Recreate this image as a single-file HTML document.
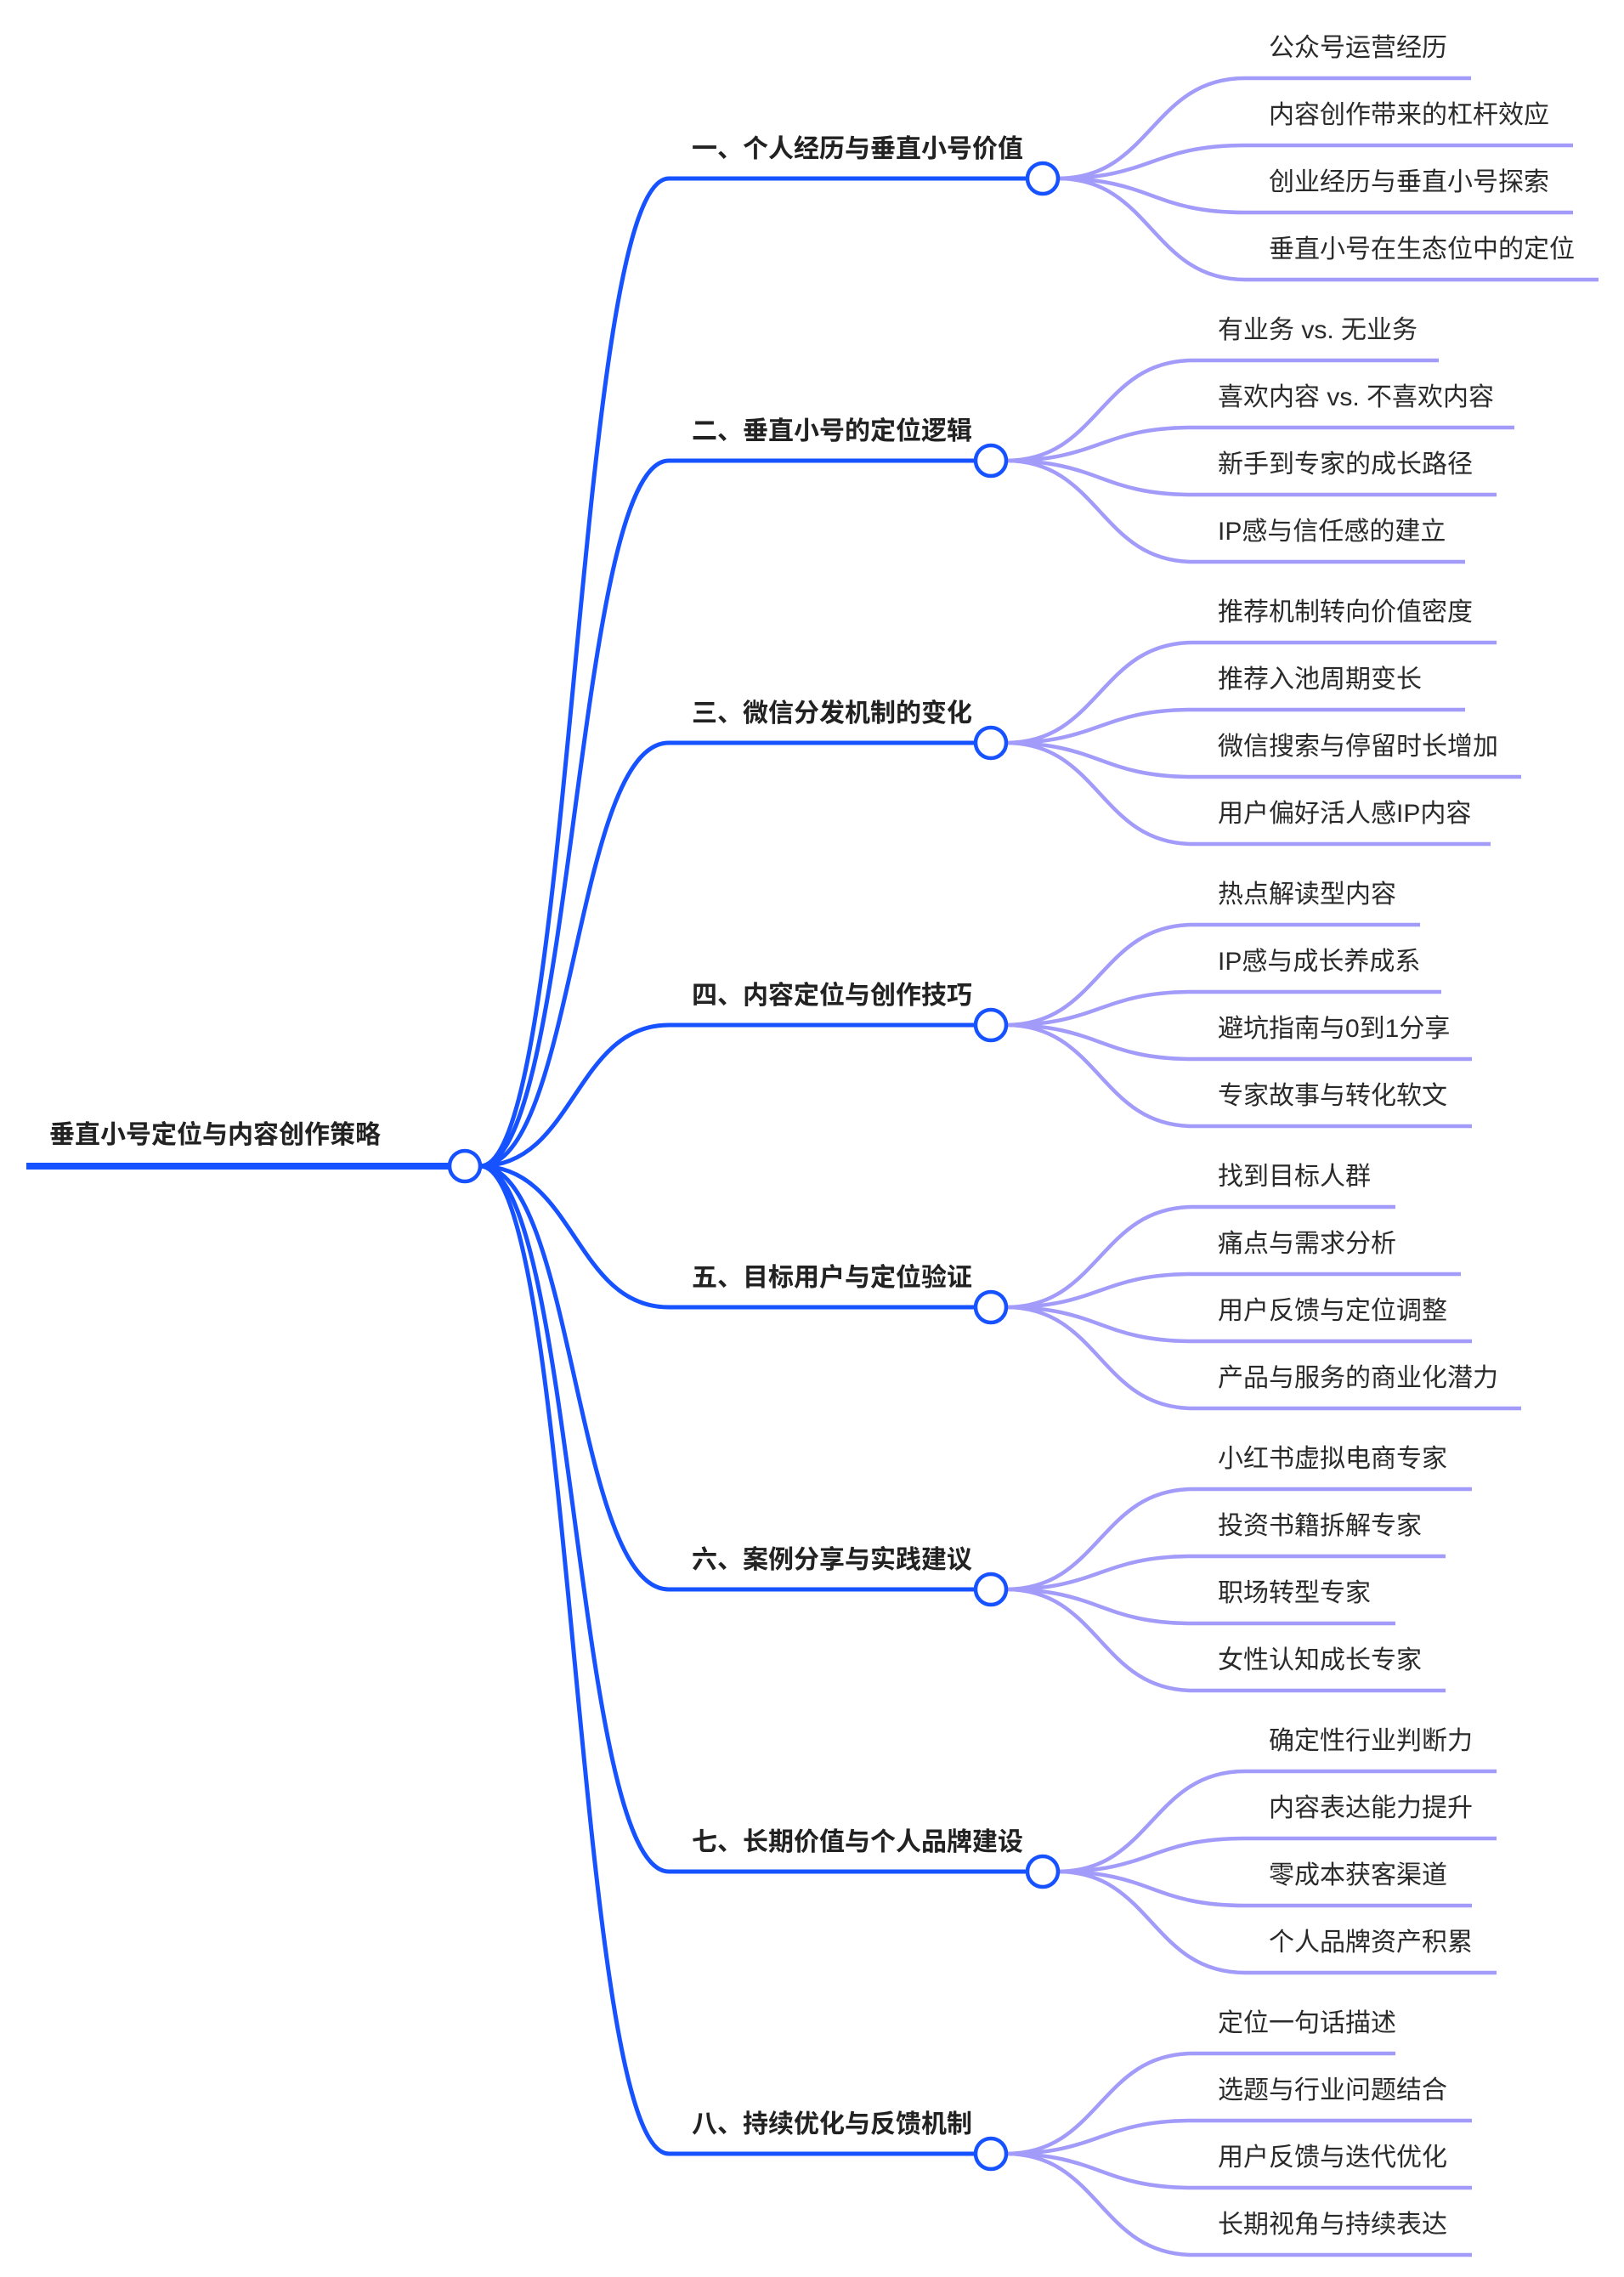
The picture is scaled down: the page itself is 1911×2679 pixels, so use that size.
<!DOCTYPE html>
<html><head><meta charset="utf-8"><style>
html,body{margin:0;padding:0;background:#fff;}
svg{display:block;}
.b{fill:none;stroke:#1652ff;stroke-width:5;}
.l{fill:none;stroke:#a29bfa;stroke-width:4.5;}
.c{fill:#fff;stroke:#1652ff;stroke-width:4.5;}
.bt{font-family:"Liberation Sans","Noto Sans CJK SC",sans-serif;font-size:30px;font-weight:bold;fill:#222;}
.lt{font-family:"Liberation Sans","Noto Sans CJK SC",sans-serif;font-size:30px;fill:#2a2a2a;}
</style></head><body>
<svg width="1911" height="2679" viewBox="0 0 1911 2679" xmlns="http://www.w3.org/2000/svg">
<line x1="31" y1="1372" x2="530" y2="1372" stroke="#1652ff" stroke-width="8"/>
<text class="bt" x="58" y="1345" style="font-size:30px">垂直小号定位与内容创作策略</text>

<path class="b" d="M565,1372 C676,1372 676,210 787,210 L1209,210"/>
<path class="b" d="M565,1372 C676,1372 676,542 787,542 L1148,542"/>
<path class="b" d="M565,1372 C676,1372 676,874 787,874 L1148,874"/>
<path class="b" d="M565,1372 C676,1372 676,1206 787,1206 L1148,1206"/>
<path class="b" d="M565,1372 C676,1372 676,1538 787,1538 L1148,1538"/>
<path class="b" d="M565,1372 C676,1372 676,1870 787,1870 L1148,1870"/>
<path class="b" d="M565,1372 C676,1372 676,2202 787,2202 L1209,2202"/>
<path class="b" d="M565,1372 C676,1372 676,2534 787,2534 L1148,2534"/>
<circle class="c" cx="547" cy="1372" r="18"/>

<g transform="translate(0,210)">
<path class="l" d="M1245,0 C1355,0 1355,-118 1465,-118 L1731,-118"/>
<path class="l" d="M1245,0 C1355,0 1355,-39 1465,-39 L1851,-39"/>
<path class="l" d="M1245,0 C1355,0 1355,40 1465,40 L1851,40"/>
<path class="l" d="M1245,0 C1355,0 1355,119 1465,119 L1881,119"/>
<circle class="c" cx="1227" cy="0" r="18"/>
<text class="bt" x="814" y="-25">一、个人经历与垂直小号价值</text>
<text class="lt" x="1493" y="-144">公众号运营经历</text>
<text class="lt" x="1493" y="-65">内容创作带来的杠杆效应</text>
<text class="lt" x="1493" y="14">创业经历与垂直小号探索</text>
<text class="lt" x="1493" y="93">垂直小号在生态位中的定位</text>
</g>

<g transform="translate(0,542)">
<path class="l" d="M1184,0 C1294,0 1294,-118 1404,-118 L1693,-118"/>
<path class="l" d="M1184,0 C1294,0 1294,-39 1404,-39 L1782,-39"/>
<path class="l" d="M1184,0 C1294,0 1294,40 1404,40 L1761,40"/>
<path class="l" d="M1184,0 C1294,0 1294,119 1404,119 L1724,119"/>
<circle class="c" cx="1166" cy="0" r="18"/>
<text class="bt" x="814" y="-25">二、垂直小号的定位逻辑</text>
<text class="lt" x="1433" y="-144">有业务 vs. 无业务</text>
<text class="lt" x="1433" y="-65">喜欢内容 vs. 不喜欢内容</text>
<text class="lt" x="1433" y="14">新手到专家的成长路径</text>
<text class="lt" x="1433" y="93">IP感与信任感的建立</text>
</g>

<g transform="translate(0,874)">
<path class="l" d="M1184,0 C1294,0 1294,-118 1404,-118 L1761,-118"/>
<path class="l" d="M1184,0 C1294,0 1294,-39 1404,-39 L1724,-39"/>
<path class="l" d="M1184,0 C1294,0 1294,40 1404,40 L1790,40"/>
<path class="l" d="M1184,0 C1294,0 1294,119 1404,119 L1754,119"/>
<circle class="c" cx="1166" cy="0" r="18"/>
<text class="bt" x="814" y="-25">三、微信分发机制的变化</text>
<text class="lt" x="1433" y="-144">推荐机制转向价值密度</text>
<text class="lt" x="1433" y="-65">推荐入池周期变长</text>
<text class="lt" x="1433" y="14">微信搜索与停留时长增加</text>
<text class="lt" x="1433" y="93">用户偏好活人感IP内容</text>
</g>

<g transform="translate(0,1206)">
<path class="l" d="M1184,0 C1294,0 1294,-118 1404,-118 L1671,-118"/>
<path class="l" d="M1184,0 C1294,0 1294,-39 1404,-39 L1696,-39"/>
<path class="l" d="M1184,0 C1294,0 1294,40 1404,40 L1732,40"/>
<path class="l" d="M1184,0 C1294,0 1294,119 1404,119 L1732,119"/>
<circle class="c" cx="1166" cy="0" r="18"/>
<text class="bt" x="814" y="-25">四、内容定位与创作技巧</text>
<text class="lt" x="1433" y="-144">热点解读型内容</text>
<text class="lt" x="1433" y="-65">IP感与成长养成系</text>
<text class="lt" x="1433" y="14">避坑指南与0到1分享</text>
<text class="lt" x="1433" y="93">专家故事与转化软文</text>
</g>

<g transform="translate(0,1538)">
<path class="l" d="M1184,0 C1294,0 1294,-118 1404,-118 L1642,-118"/>
<path class="l" d="M1184,0 C1294,0 1294,-39 1404,-39 L1719,-39"/>
<path class="l" d="M1184,0 C1294,0 1294,40 1404,40 L1732,40"/>
<path class="l" d="M1184,0 C1294,0 1294,119 1404,119 L1790,119"/>
<circle class="c" cx="1166" cy="0" r="18"/>
<text class="bt" x="814" y="-25">五、目标用户与定位验证</text>
<text class="lt" x="1433" y="-144">找到目标人群</text>
<text class="lt" x="1433" y="-65">痛点与需求分析</text>
<text class="lt" x="1433" y="14">用户反馈与定位调整</text>
<text class="lt" x="1433" y="93">产品与服务的商业化潜力</text>
</g>

<g transform="translate(0,1870)">
<path class="l" d="M1184,0 C1294,0 1294,-118 1404,-118 L1732,-118"/>
<path class="l" d="M1184,0 C1294,0 1294,-39 1404,-39 L1701,-39"/>
<path class="l" d="M1184,0 C1294,0 1294,40 1404,40 L1642,40"/>
<path class="l" d="M1184,0 C1294,0 1294,119 1404,119 L1701,119"/>
<circle class="c" cx="1166" cy="0" r="18"/>
<text class="bt" x="814" y="-25">六、案例分享与实践建议</text>
<text class="lt" x="1433" y="-144">小红书虚拟电商专家</text>
<text class="lt" x="1433" y="-65">投资书籍拆解专家</text>
<text class="lt" x="1433" y="14">职场转型专家</text>
<text class="lt" x="1433" y="93">女性认知成长专家</text>
</g>

<g transform="translate(0,2202)">
<path class="l" d="M1245,0 C1355,0 1355,-118 1465,-118 L1761,-118"/>
<path class="l" d="M1245,0 C1355,0 1355,-39 1465,-39 L1761,-39"/>
<path class="l" d="M1245,0 C1355,0 1355,40 1465,40 L1732,40"/>
<path class="l" d="M1245,0 C1355,0 1355,119 1465,119 L1761,119"/>
<circle class="c" cx="1227" cy="0" r="18"/>
<text class="bt" x="814" y="-25">七、长期价值与个人品牌建设</text>
<text class="lt" x="1493" y="-144">确定性行业判断力</text>
<text class="lt" x="1493" y="-65">内容表达能力提升</text>
<text class="lt" x="1493" y="14">零成本获客渠道</text>
<text class="lt" x="1493" y="93">个人品牌资产积累</text>
</g>

<g transform="translate(0,2534)">
<path class="l" d="M1184,0 C1294,0 1294,-118 1404,-118 L1642,-118"/>
<path class="l" d="M1184,0 C1294,0 1294,-39 1404,-39 L1732,-39"/>
<path class="l" d="M1184,0 C1294,0 1294,40 1404,40 L1732,40"/>
<path class="l" d="M1184,0 C1294,0 1294,119 1404,119 L1732,119"/>
<circle class="c" cx="1166" cy="0" r="18"/>
<text class="bt" x="814" y="-25">八、持续优化与反馈机制</text>
<text class="lt" x="1433" y="-144">定位一句话描述</text>
<text class="lt" x="1433" y="-65">选题与行业问题结合</text>
<text class="lt" x="1433" y="14">用户反馈与迭代优化</text>
<text class="lt" x="1433" y="93">长期视角与持续表达</text>
</g>
</svg>
</body></html>
